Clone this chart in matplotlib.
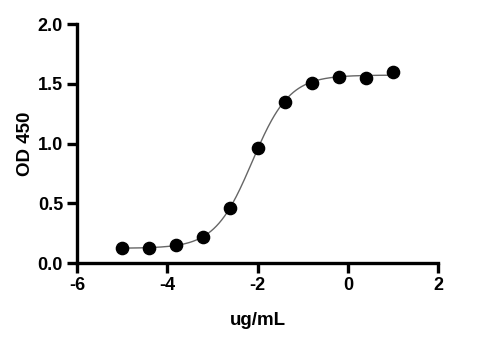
import numpy as np
import matplotlib
matplotlib.use('Agg')
import matplotlib.pyplot as plt

log_conc = [-5.0, -4.4, -3.8, -3.2, -2.6, -2.0, -1.4, -0.8, -0.2, 0.4, 1.0]
od450 = [0.13, 0.13, 0.15, 0.22, 0.46, 0.96, 1.35, 1.51, 1.56, 1.55, 1.60]
x_ticks = [-6, -4, -2, 0, 2]
y_ticks = [0.0, 0.5, 1.0, 1.5, 2.0]

plt.rcParams['font.family'] = ['Liberation Sans', 'DejaVu Sans']
plt.rcParams['font.weight'] = 'bold'
plt.rcParams['axes.unicode_minus'] = False

x = np.array(log_conc)
y = np.array(od450)


# simple 4PL fit: grid over logEC50 / hill, bottom & top by linear least squares
def fit_4pl(x, y):
    best = None
    for ec in np.linspace(-3.5, -1.0, 251):
        for h in np.linspace(0.5, 2.5, 201):
            s = 1.0 / (1.0 + 10 ** ((ec - x) * h))
            A = np.column_stack([1 - s, s])
            coef, res, _, _ = np.linalg.lstsq(A, y, rcond=None)
            err = np.sum((A @ coef - y) ** 2)
            if best is None or err < best[0]:
                best = (err, coef[0], coef[1], ec, h)
    return best[1:]


bottom, top, ec50, hill = fit_4pl(x, y)
xf = np.linspace(x.min(), x.max(), 300)
yf = bottom + (top - bottom) / (1 + 10 ** ((ec50 - xf) * hill))

fig = plt.figure(figsize=(4.81, 3.39), dpi=100)
ax = fig.add_axes([0.160, 0.224, 0.751, 0.705])
ax.plot(xf, yf, color='#666666', lw=1.0, zorder=2)
ax.plot(x, y, 'o', color='black', ms=8.8, zorder=3)

ax.set_xlim(-6, 2)
ax.set_ylim(0, 2.0)
ax.set_xticks(x_ticks)
ax.set_yticks(y_ticks)
ax.set_yticklabels([f'{v:.1f}' for v in y_ticks])
ax.spines['top'].set_visible(False)
ax.spines['right'].set_visible(False)
for s in ['left', 'bottom']:
    ax.spines[s].set_linewidth(2.4)
ax.tick_params(direction='out', length=7, width=2.4, labelsize=13, pad=3)
for lab in ax.get_xticklabels() + ax.get_yticklabels():
    lab.set_fontweight('bold')

ax.set_xlabel('ug/mL', fontsize=13.5, fontweight='bold', labelpad=13)
ax.set_ylabel('OD 450', fontsize=13.5, fontweight='bold', labelpad=3)

plt.savefig('out.png', dpi=100)
